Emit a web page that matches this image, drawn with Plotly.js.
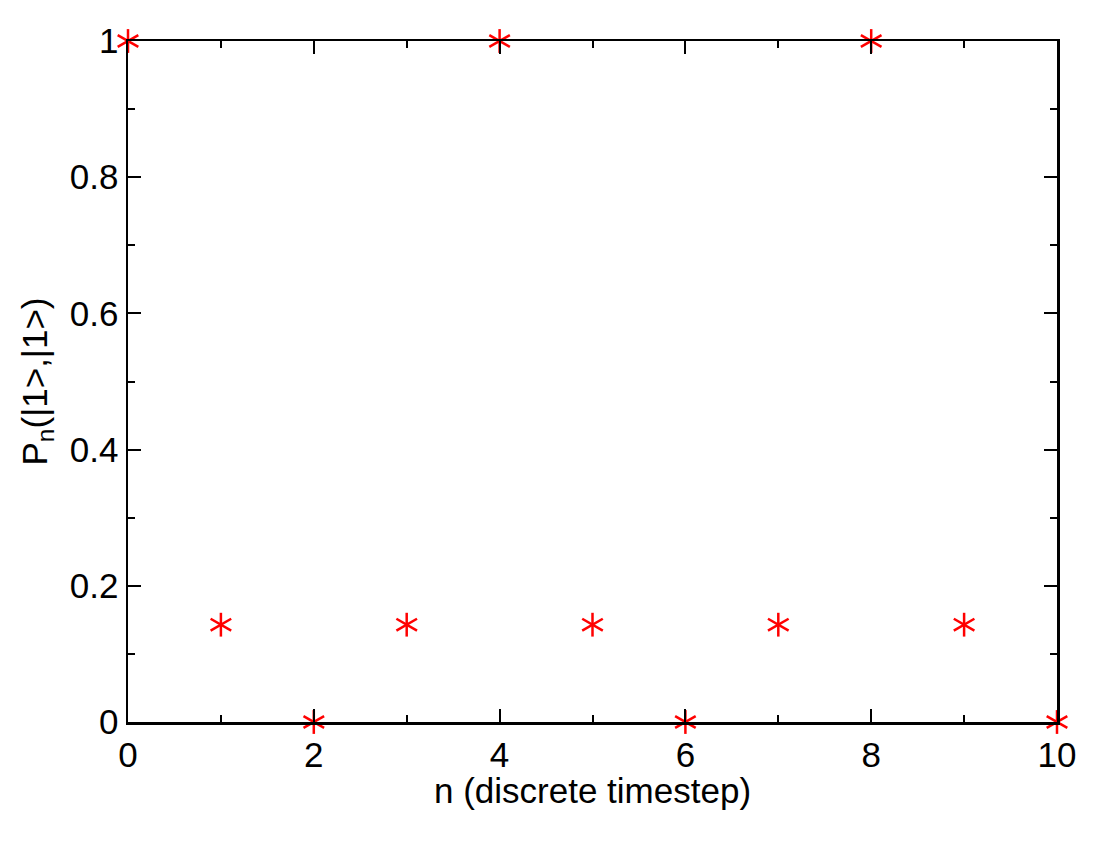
<!DOCTYPE html>
<html>
<head>
<meta charset="utf-8">
<script src="https://cdn.plot.ly/plotly-3.0.1.min.js"></script>
<style>html,body{margin:0;padding:0;background:#fff}#plot{width:1100px;height:850px}</style>
</head>
<body>
<div id="plot"></div>
<script>
var nSteps = [0, 1, 2, 3, 4, 5, 6, 7, 8, 9, 10];
var probability = [1, 0.1429, 0, 0.1429, 1, 0.1429, 0, 0.1429, 1, 0.1429, 0];
var xTickValues = [0, 2, 4, 6, 8, 10];
var yTickValues = [0, 0.2, 0.4, 0.6, 0.8, 1];
var yTickLabels = ['0', '0.2', '0.4', '0.6', '0.8', '1'];

var armAngles = [0, 60, -60];
var traces = armAngles.map(function (a) {
  return {
    x: nSteps, y: probability, type: 'scatter', mode: 'markers', cliponaxis: false,
    hoverinfo: 'skip', showlegend: false,
    marker: { symbol: 'line-ns-open', angle: a, size: 17, color: 'red', line: { color: 'red', width: 2.5 } }
  };
});

var font = { family: 'Liberation Sans, Arial, sans-serif', size: 35, color: '#000' };
var layout = {
  width: 1100, height: 850,
  margin: { l: 128, r: 43, t: 41, b: 128 },
  paper_bgcolor: '#fff', plot_bgcolor: '#fff',
  font: font,
  showlegend: false,
  xaxis: {
    range: [0, 10], tickvals: xTickValues, ticktext: xTickValues.map(String),
    ticks: 'inside', ticklen: 13, tickwidth: 2, tickcolor: '#000',
    showline: true, linewidth: 2.5, linecolor: '#000', mirror: 'ticks',
    showgrid: false, zeroline: false, tickfont: font,
    minor: { dtick: 1, ticks: 'inside', ticklen: 7, tickwidth: 2, tickcolor: '#000', showgrid: false }
  },
  yaxis: {
    range: [0, 1], tickvals: yTickValues, ticktext: yTickLabels,
    ticks: 'inside', ticklen: 13, tickwidth: 2, tickcolor: '#000',
    showline: true, linewidth: 2.5, linecolor: '#000', mirror: 'ticks',
    showgrid: false, zeroline: false, tickfont: font,
    minor: { dtick: 0.1, ticks: 'inside', ticklen: 7, tickwidth: 2, tickcolor: '#000', showgrid: false },
    title: { text: 'P<sub>n</sub>(|1&gt;,|1&gt;)', font: font, standoff: 12 }
  },
  annotations: [{
    text: 'n (discrete timestep)', font: font, showarrow: false,
    xref: 'paper', yref: 'paper', x: 0.5, y: -0.1, xanchor: 'center', yanchor: 'middle'
  }]
};
Plotly.newPlot('plot', traces, layout, { staticPlot: true, displayModeBar: false });
</script>
</body>
</html>
